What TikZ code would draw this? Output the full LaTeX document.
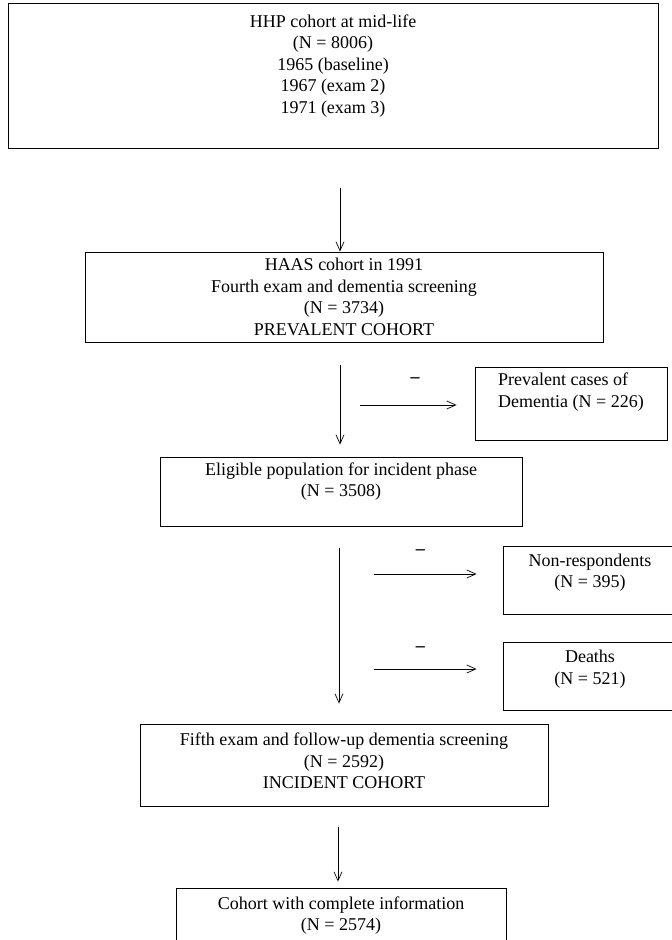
\documentclass[tikz,border=0pt]{standalone}
\usepackage{fontspec}
\setmainfont{Liberation Serif}
\usetikzlibrary{arrows.meta}
\tikzset{every node/.style={align=center}, >= {Straight Barb[length=9pt,width=8pt]}, font=\fontsize{18}{21.5}\selectfont,
    box/.style={draw, line width=0.8pt, inner sep=0pt},
    flow/.style={->, line width=0.7pt},
    minus/.style={above, font=\fontsize{18}{21.5}\selectfont\bfseries}}

\begin{document}
\begin{tikzpicture}[x=1pt,y=-1pt]
            \useasboundingbox (0,0) rectangle (672,940);
            \node [box, minimum width=650pt, minimum height=145pt, text depth=23pt] (hhp) at (333,75.5) {HHP cohort at mid-life \\ (N = 8006) \\ 1965 (baseline) \\ 1967 (exam 2) \\ 1971 (exam 3)};
            \node [box, minimum width=518pt, minimum height=90pt] (haas) at (344,297) {HAAS cohort in 1991 \\ Fourth exam and dementia screening \\ (N = 3734) \\ PREVALENT COHORT};
            \node [box, minimum width=192pt, minimum height=73pt, text depth=27pt, align=left] (prev) at (571,403.5) {Prevalent cases of \\ Dementia (N = 226)};
            \node [box, minimum width=362pt, minimum height=69pt, text depth=24pt] (elig) at (341,491.5) {Eligible population for incident phase \\ (N = 3508)};
            \node [box, minimum width=174pt, minimum height=68pt, text depth=19pt] (nonresp) at (590,580) {Non-respondents \\ (N = 395)};
            \node [box, minimum width=174pt, minimum height=68pt, text depth=18pt] (deaths) at (590,676) {Deaths \\ (N = 521)};
            \node [box, minimum width=408pt, minimum height=82pt, text depth=8pt] (fifth) at (344,765) {Fifth exam and follow-up dementia screening \\ (N = 2592) \\ INCIDENT COHORT};
            \node [box, minimum width=330pt, minimum height=74pt, text depth=23pt] (complete) at (341,925) {Cohort with complete information \\ (N = 2574)};
            \coordinate (a1) at (340,188);
            \coordinate (a2) at (340,365);
            \coordinate (a3) at (339,548);
            \coordinate (a4) at (338,827);
            \coordinate (h1) at (360,405);
            \coordinate (h2) at (374,574);
            \coordinate (h3) at (374,669);
            \path[flow] (a1) edge (a1 |- haas.north)
                (a2) edge [shorten >=12pt] (a2 |- elig.north)
                (a3) edge [shorten >=20pt] (a3 |- fifth.north)
                (a4) edge [shorten >=6pt] (a4 |- complete.north)
                (h1) edge [shorten >=18pt] node [minus, pos=0.48, yshift=19pt] (m1) {–} (h1 -| prev.west)
                (h2) edge [shorten >=26pt] node [minus, pos=0.36, yshift=16pt] (m2) {–} (h2 -| nonresp.west)
                (h3) edge [shorten >=26pt] node [minus, pos=0.36, yshift=14pt] (m3) {–} (h3 -| deaths.west);
        \end{tikzpicture}
\end{document}
